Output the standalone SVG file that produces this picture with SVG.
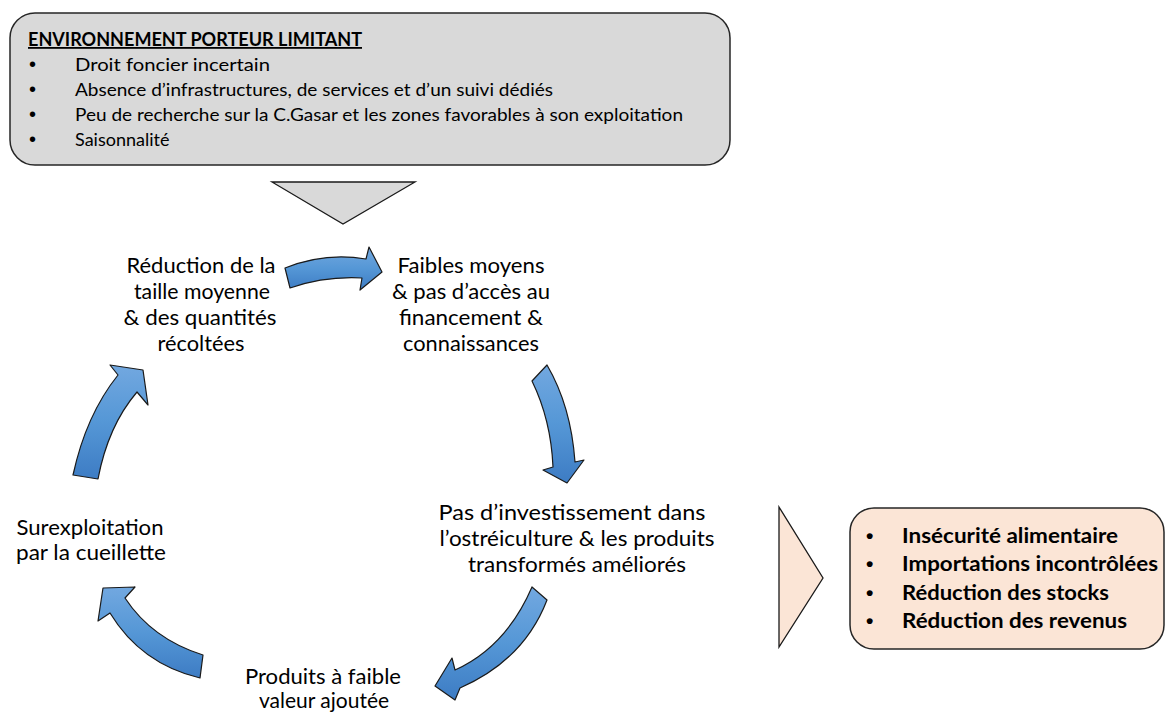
<svg xmlns="http://www.w3.org/2000/svg" width="1167" height="713" viewBox="0 0 1167 713">
<defs>
<linearGradient id="blue" x1="0" y1="0" x2="0" y2="1">
<stop offset="0" stop-color="#72a8e0"/>
<stop offset="0.5" stop-color="#5597d6"/>
<stop offset="1" stop-color="#3d7cc4"/>
</linearGradient>
<style>
.t{font-family:Lato,"Open Sans","Liberation Sans",sans-serif;fill:#000}
.s17{font-size:18px}
.s20{font-size:21px}
.b19{font-size:20px;font-weight:bold}
.bul{font-family:"Liberation Sans",sans-serif;font-size:20px;fill:#000}
.bulb{font-family:"Liberation Sans",sans-serif;font-size:21px;font-weight:bold;fill:#000}
.mid{text-anchor:middle}
.arrow{fill:url(#blue);stroke:#1a1a1a;stroke-width:1.2;stroke-linejoin:round}
.box{stroke:#262626;stroke-width:1.5}
</style>
</defs>
<rect width="1167" height="713" fill="#ffffff"/>

<g id="environnement">
<rect class="box" x="10" y="13" width="720" height="152" rx="25" ry="25" fill="#d9d9d9"/>
<text class="t s17" x="28" y="46" font-weight="bold" text-decoration="underline" textLength="334" lengthAdjust="spacingAndGlyphs">ENVIRONNEMENT PORTEUR LIMITANT</text>
<text class="bul" x="29" y="71">•</text>
<text class="t s17" x="75" y="71" textLength="195" lengthAdjust="spacingAndGlyphs">Droit foncier incertain</text>
<text class="bul" x="29" y="96">•</text>
<text class="t s17" x="75" y="96" textLength="478" lengthAdjust="spacingAndGlyphs">Absence d’infrastructures, de services et d’un suivi dédiés</text>
<text class="bul" x="29" y="121">•</text>
<text class="t s17" x="75" y="121" textLength="608" lengthAdjust="spacingAndGlyphs">Peu de recherche sur la C.Gasar et les zones favorables à son exploitation</text>
<text class="bul" x="29" y="146">•</text>
<text class="t s17" x="75" y="146">Saisonnalité</text>
</g>

<g id="triangle-down">
<polygon points="272,182 415,182 343,224" fill="#d9d9d9" stroke="#1a1a1a" stroke-width="1.3"/>
</g>

<g id="reduction">
<text class="t s20 mid" x="201" y="273" textLength="149" lengthAdjust="spacingAndGlyphs">Réduction de la</text>
<text class="t s20 mid" x="202" y="299" textLength="136" lengthAdjust="spacingAndGlyphs">taille moyenne</text>
<text class="t s20 mid" x="200" y="325" textLength="153" lengthAdjust="spacingAndGlyphs">&amp; des quantités</text>
<text class="t s20 mid" x="201" y="351" textLength="87" lengthAdjust="spacingAndGlyphs">récoltées</text>
</g>

<g id="faibles-moyens">
<text class="t s20 mid" x="471" y="273" textLength="147" lengthAdjust="spacingAndGlyphs">Faibles moyens</text>
<text class="t s20 mid" x="471" y="299" textLength="158" lengthAdjust="spacingAndGlyphs">&amp; pas d’accès au</text>
<text class="t s20 mid" x="471" y="325" textLength="144" lengthAdjust="spacingAndGlyphs">financement &amp;</text>
<text class="t s20 mid" x="471" y="351" textLength="136" lengthAdjust="spacingAndGlyphs">connaissances</text>
</g>

<g id="pas-investissement">
<text class="t s20 mid" x="572" y="520" textLength="267" lengthAdjust="spacingAndGlyphs">Pas d’investissement dans</text>
<text class="t s20 mid" x="577" y="546" textLength="275" lengthAdjust="spacingAndGlyphs">l’ostréiculture &amp; les produits</text>
<text class="t s20 mid" x="577" y="572" textLength="218" lengthAdjust="spacingAndGlyphs">transformés améliorés</text>
</g>

<g id="produits">
<text class="t s20 mid" x="323" y="684" textLength="156" lengthAdjust="spacingAndGlyphs">Produits à faible</text>
<text class="t s20 mid" x="324" y="708">valeur ajoutée</text>
</g>

<g id="surexploitation">
<text class="t s20 mid" x="90" y="535" textLength="147" lengthAdjust="spacingAndGlyphs">Surexploitation</text>
<text class="t s20 mid" x="91" y="560" textLength="150" lengthAdjust="spacingAndGlyphs">par la cueillette</text>
</g>

<g id="triangle-right">
<polygon points="779,507 823,578 779,647" fill="#fbe5d6" stroke="#1a1a1a" stroke-width="1.3"/>
</g>

<g id="consequences">
<rect class="box" x="850" y="508" width="314" height="141" rx="24" ry="24" fill="#fbe5d6"/>
<text class="bulb" x="866" y="543">•</text>
<text class="t b19" x="902" y="543" textLength="216" lengthAdjust="spacingAndGlyphs">Insécurité alimentaire</text>
<text class="bulb" x="866" y="571">•</text>
<text class="t b19" x="902" y="571" textLength="256" lengthAdjust="spacingAndGlyphs">Importations incontrôlées</text>
<text class="bulb" x="866" y="600">•</text>
<text class="t b19" x="902" y="600" textLength="207" lengthAdjust="spacingAndGlyphs">Réduction des stocks</text>
<text class="bulb" x="866" y="628">•</text>
<text class="t b19" x="902" y="628" textLength="225" lengthAdjust="spacingAndGlyphs">Réduction des revenus</text>
</g>

<g id="connectors">
<path class="arrow" d="M285,268 Q325,252 366,259 L369,247 L382,272 L360,290 L362,278 Q325,276 290,288 Z"/>
<path class="arrow" d="M547,365 Q571,406 575,462 L584,460 L567,483 L543,470 L553,467 Q551,420 532,381 Z"/>
<path class="arrow" d="M532,587 Q506,647 455,670 L452,658 L435,686 L455,700 L460,688 Q524,660 547,600 Z"/>
<path class="arrow" d="M203,655 Q152,639 125,598 L135,587 L103,588 L98,621 L110,613 Q141,664 200,678 Z"/>
<path class="arrow" d="M73,475 Q86,415 118,375 L110,365 L143,370 L148,405 L137,392 Q108,426 98,479 Z"/>
</g>
</svg>
